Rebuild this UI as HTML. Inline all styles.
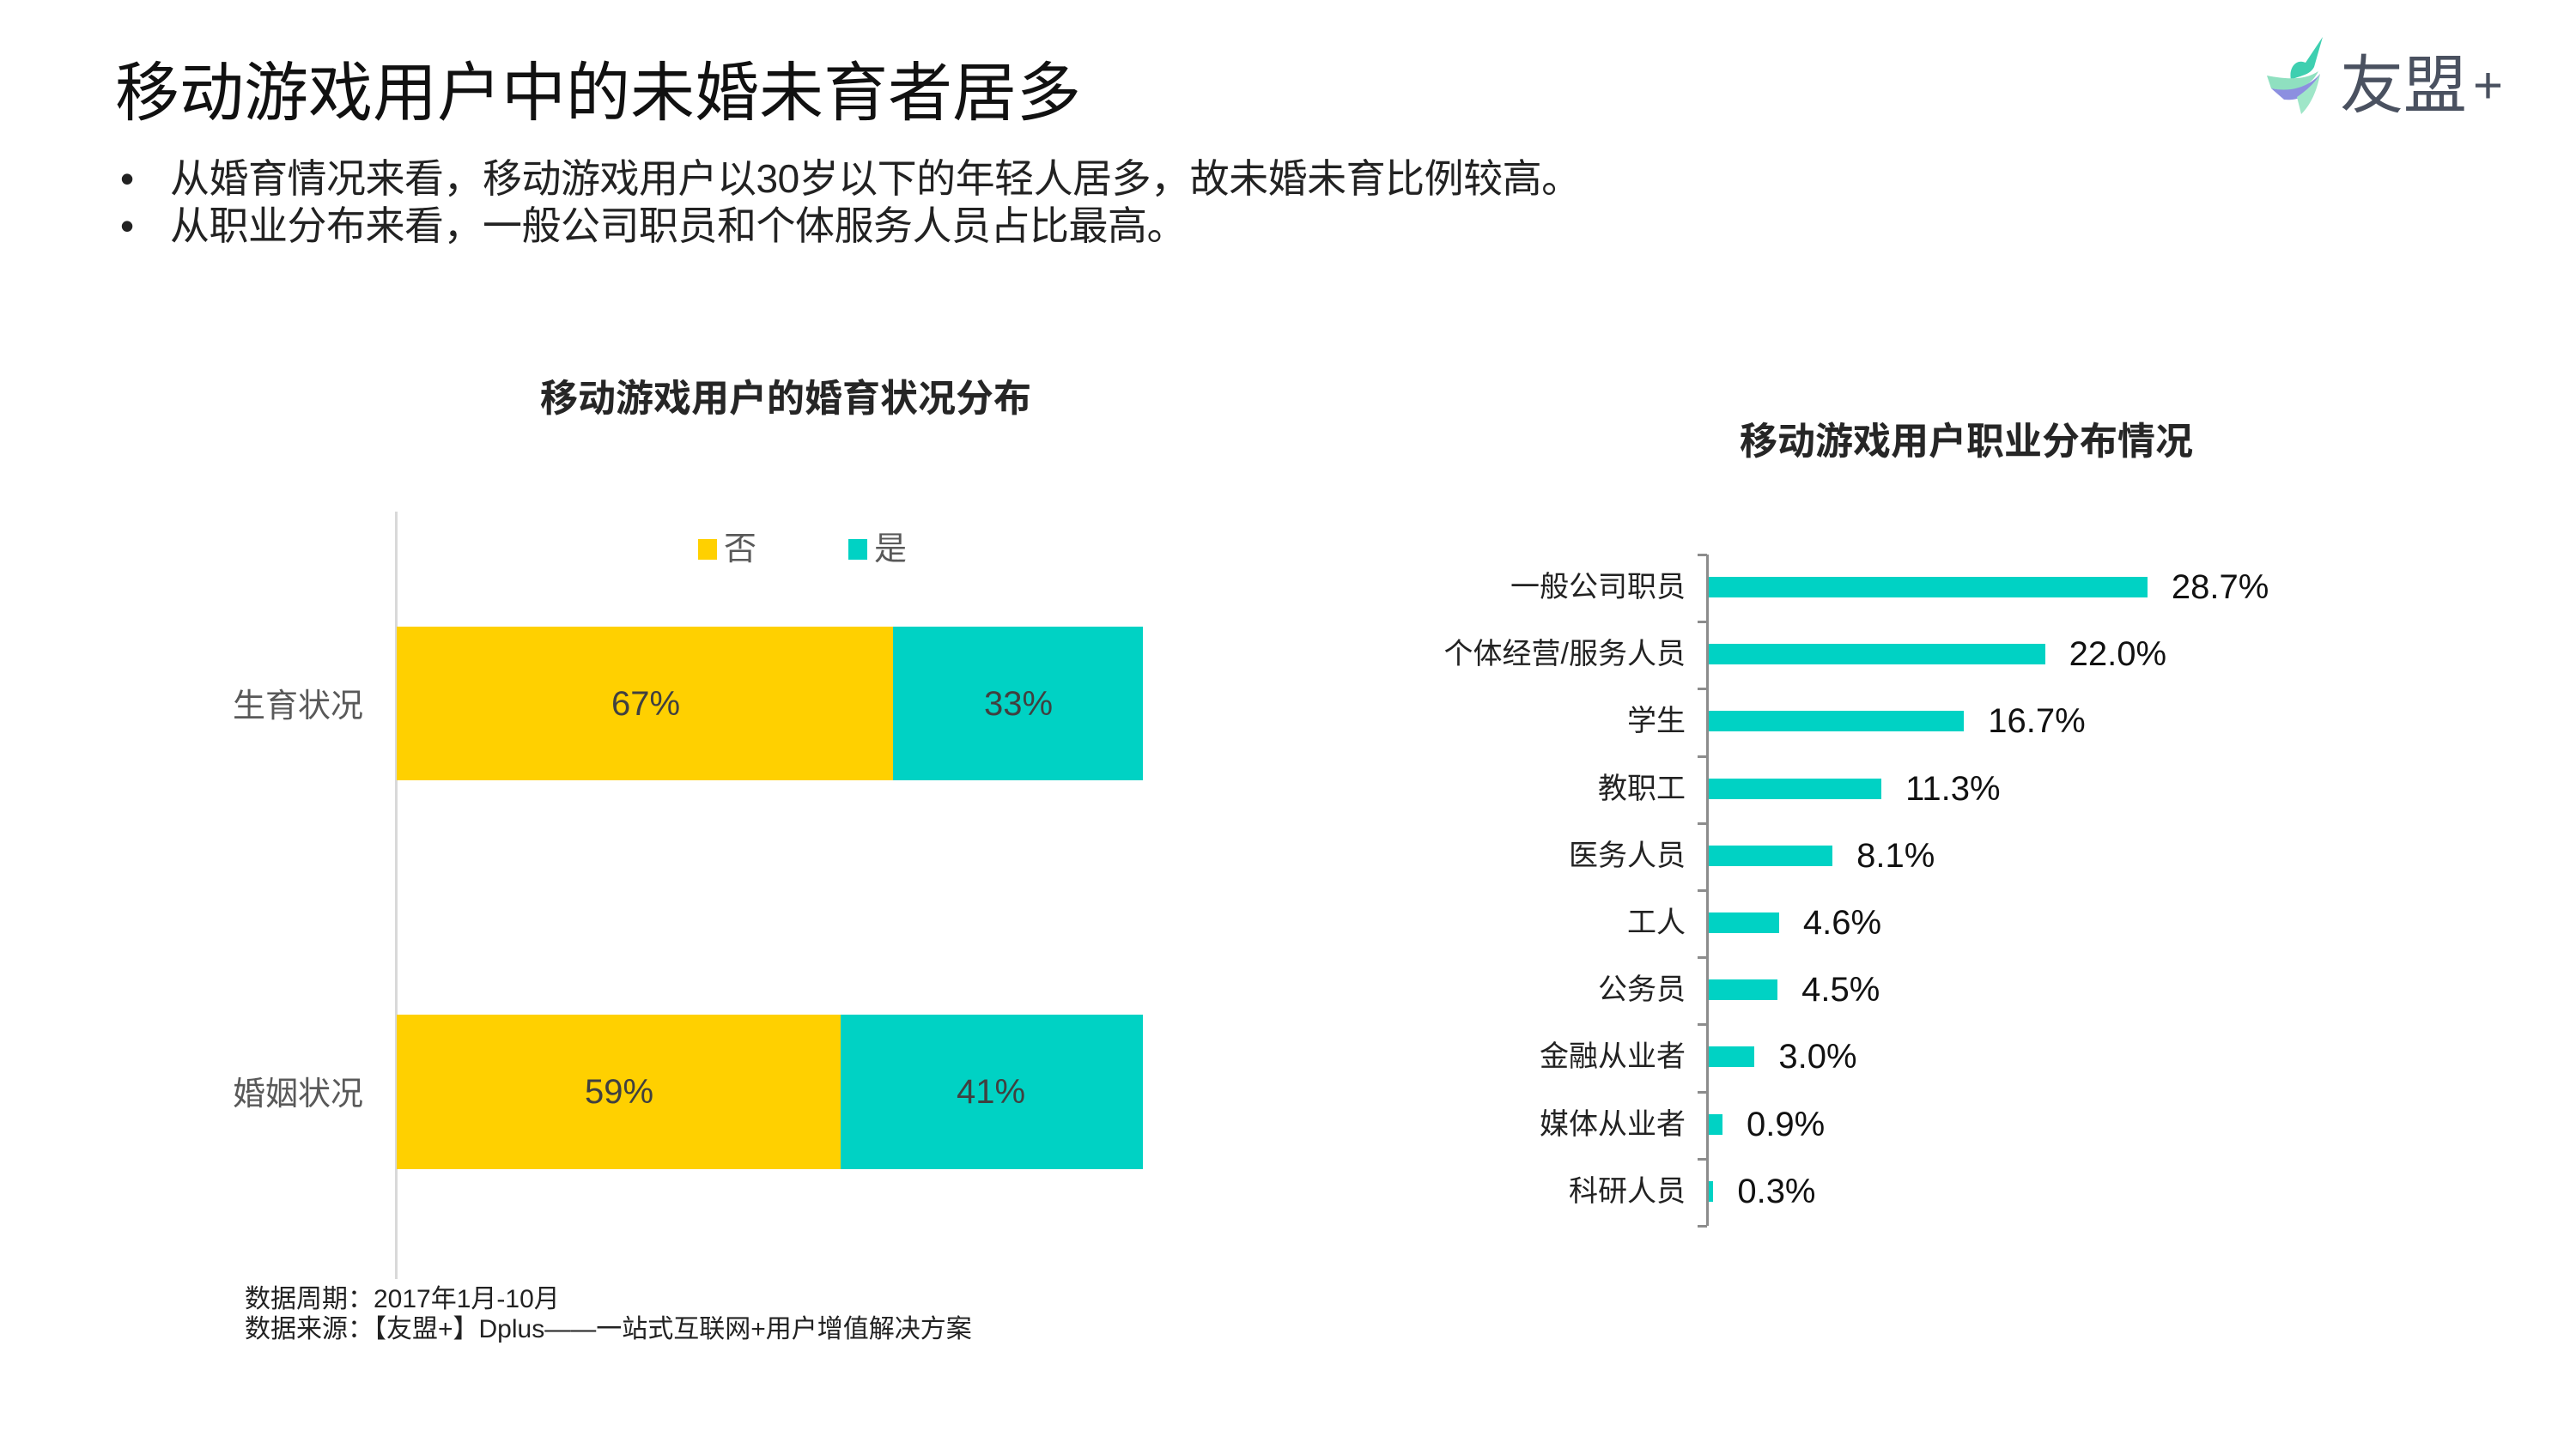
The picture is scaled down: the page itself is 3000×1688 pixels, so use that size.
<!DOCTYPE html>
<html><head><meta charset="utf-8"><style>
*{margin:0;padding:0}
body{width:3000px;height:1688px;background:#fff;position:relative;overflow:hidden;font-family:"Liberation Sans","Noto Sans CJK SC",sans-serif}
.a{position:absolute;white-space:nowrap}
.r{text-align:right}
.c{text-align:center}
</style></head><body>
<div class="a" style="left:134px;top:58px;font-size:75px;color:#111;line-height:100px">移动游戏用户中的未婚未育者居多</div>
<div class="a" style="left:140px;top:180px;font-size:46px;color:#222;line-height:56px">•</div>
<div class="a" style="left:198px;top:180px;font-size:46px;color:#222;line-height:56px;letter-spacing:-0.5px">从婚育情况来看，移动游戏用户以30岁以下的年轻人居多，故未婚未育比例较高。</div>
<div class="a" style="left:140px;top:235px;font-size:46px;color:#222;line-height:56px">•</div>
<div class="a" style="left:198px;top:235px;font-size:46px;color:#222;line-height:56px;letter-spacing:-0.5px">从职业分布来看，一般公司职员和个体服务人员占比最高。</div>

<!-- logo -->
<svg class="a" style="left:2640px;top:38px" width="90" height="100" viewBox="0 0 90 100">
<path d="M65 5 L45 35 C35 30 25 40 28 55 C38 50 50 50 55 40 Z" fill="#3ecfb0"/>
<path d="M0 50 C25 55 45 55 60 45 C50 65 30 70 5 65 Z" fill="#8fe0c0"/>
<path d="M5 65 C30 70 50 62 62 48 C55 70 40 80 20 78 Z" fill="#8c8fe0"/>
<path d="M35 75 C50 65 58 55 62 48 C58 70 50 85 40 95 Z" fill="#9fe6c8"/>
</svg>
<div class="a" style="left:2725px;top:55px;font-size:74px;color:#4a5160;line-height:90px">友盟</div>
<div class="a" style="left:2880px;top:60px;font-size:60px;color:#4a5160;line-height:80px">+</div>

<!-- left chart -->
<div class="a c" style="left:515px;width:800px;top:438px;font-size:44px;font-weight:bold;color:#262626;line-height:54px">移动游戏用户的婚育状况分布</div>
<div class="a" style="left:460px;top:596px;width:3px;height:894px;background:#d9d9d9"></div>
<div class="a" style="left:813px;top:628px;width:22px;height:24px;background:#FFD000"></div>
<div class="a" style="left:843px;top:615px;font-size:38px;color:#595959;line-height:50px">否</div>
<div class="a" style="left:988px;top:628px;width:22px;height:24px;background:#00D2C4"></div>
<div class="a" style="left:1018px;top:615px;font-size:38px;color:#595959;line-height:50px">是</div>

<div class="a" style="left:462px;top:730px;width:578px;height:179px;background:#FFD000"></div>
<div class="a" style="left:1040px;top:730px;width:291px;height:179px;background:#00D2C4"></div>
<div class="a" style="left:462px;top:1182px;width:517px;height:180px;background:#FFD000"></div>
<div class="a" style="left:979px;top:1182px;width:352px;height:180px;background:#00D2C4"></div>
<div class="a c" style="left:652px;width:200px;top:795px;font-size:40px;color:#404040;line-height:50px">67%</div>
<div class="a c" style="left:1086px;width:200px;top:795px;font-size:40px;color:#404040;line-height:50px">33%</div>
<div class="a c" style="left:621px;width:200px;top:1247px;font-size:40px;color:#404040;line-height:50px">59%</div>
<div class="a c" style="left:1054px;width:200px;top:1247px;font-size:40px;color:#404040;line-height:50px">41%</div>
<div class="a r" style="left:200px;width:223px;top:798px;font-size:38px;color:#595959;line-height:50px">生育状况</div>
<div class="a r" style="left:200px;width:223px;top:1250px;font-size:38px;color:#595959;line-height:50px">婚姻状况</div>

<div class="a" style="left:285px;top:1497px;font-size:30px;color:#222;line-height:34px">数据周期：2017年1月-10月</div>
<div class="a" style="left:285px;top:1532px;font-size:30px;color:#222;line-height:34px">数据来源：【友盟+】Dplus——一站式互联网+用户增值解决方案</div>

<!-- right chart -->
<div class="a c" style="left:1890px;width:800px;top:488px;font-size:44px;font-weight:bold;color:#262626;line-height:54px">移动游戏用户职业分布情况</div>
<div class="a" style="left:1987px;top:646px;width:3px;height:782px;background:#8c8c8c"></div>
<div id="rc"></div>
<script>
var d=[["一般公司职员",28.7],["个体经营/服务人员",22.0],["学生",16.7],["教职工",11.3],["医务人员",8.1],["工人",4.6],["公务员",4.5],["金融从业者",3.0],["媒体从业者",0.9],["科研人员",0.3]];
var h="";
for(var i=0;i<=10;i++){h+='<div class="a" style="left:1977px;top:'+(645+i*78.2)+'px;width:11px;height:3px;background:#8c8c8c"></div>';}
d.forEach(function(e,i){var cy=684+i*78.2;var w=Math.max(5,e[1]*17.8);
h+='<div class="a" style="left:1990px;top:'+(cy-12)+'px;width:'+w+'px;height:24px;background:#00D2C4"></div>';
h+='<div class="a" style="left:'+(1990+w+28)+'px;top:'+(cy-25)+'px;font-size:40px;color:#111;line-height:50px">'+e[1].toFixed(1)+'%</div>';
h+='<div class="a r" style="left:1500px;width:463px;top:'+(cy-22)+'px;font-size:34px;color:#222;line-height:44px">'+e[0]+'</div>';});
document.getElementById("rc").outerHTML=h;
</script>
</body></html>
